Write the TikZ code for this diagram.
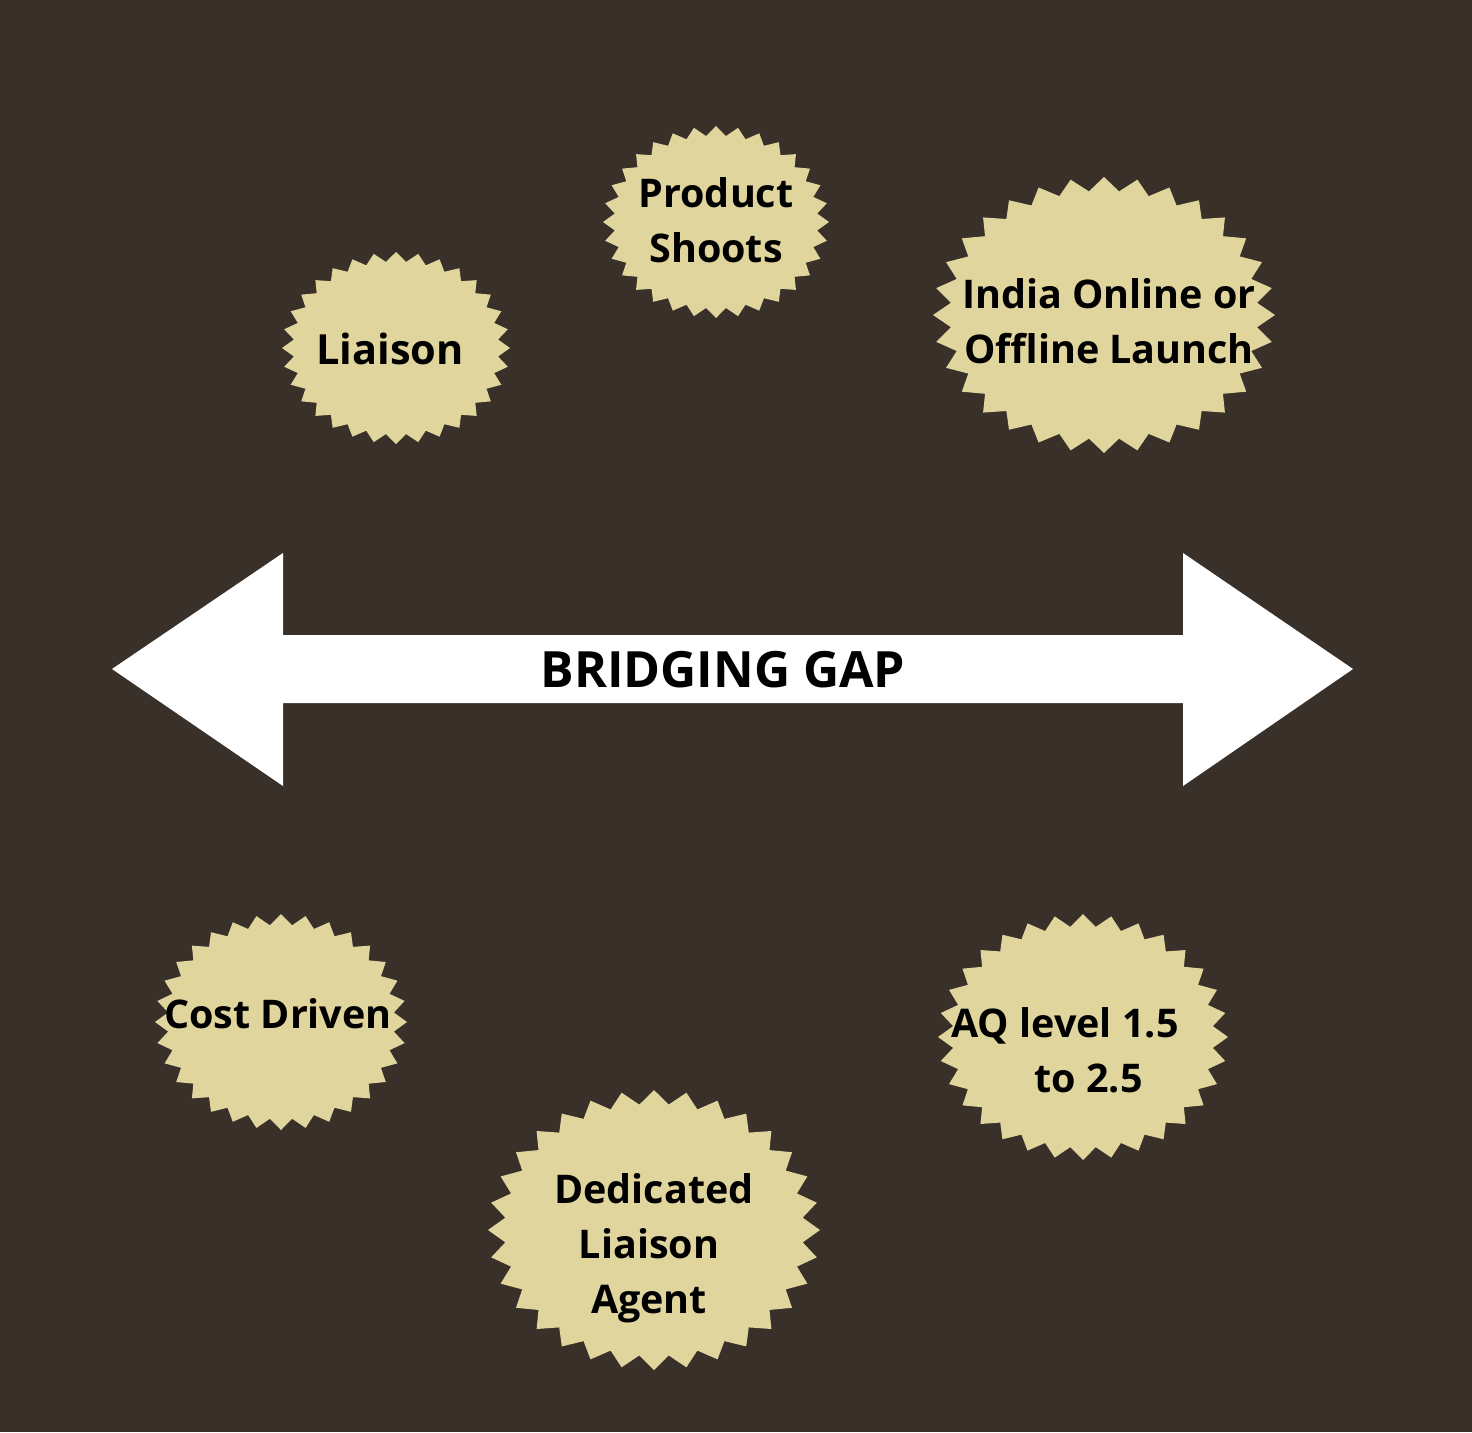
\documentclass[tikz,border=0pt]{standalone}
\usepackage{fontspec}
\setmainfont{Open Sans}
\definecolor{bgbrown}{HTML}{39302A}
\definecolor{sealfill}{HTML}{E1D59E}
\newcommand\sealshape[4]{%
  \fill[sealfill] ({#1+#3},#2) \foreach \i in {1,...,63}{ -- ({#1+#3*(1-0.1*mod(\i,2))*cos(\i*5.625)},{#2+#4*(1-0.1*mod(\i,2))*sin(\i*5.625)}) } -- cycle;}
\begin{document}
\begin{tikzpicture}[x=1pt,y=-1pt,
  lbl/.style={font=\bfseries\fontsize{39.5}{55}\selectfont, align=center, anchor=base, inner sep=0pt, text=black}]
\fill[bgbrown] (0,0) rectangle (1472,1432);
\useasboundingbox (0,0) rectangle (1472,1432);
% seals
\sealshape{716}{222}{113}{96}
\sealshape{396}{348}{114}{96}
\sealshape{1104}{315}{171}{138}
\sealshape{281}{1022}{126}{108}
\sealshape{1083}{1037}{145}{123}
\sealshape{654}{1230}{166}{140}
% double arrow
\fill[white] (112,669) -- (283,553) -- (283,635) -- (1183,635) -- (1183,553) -- (1353,669)
  -- (1183,786) -- (1183,703) -- (283,703) -- (283,786) -- cycle;
% labels
\node[lbl, font=\bfseries\fontsize{50}{60}\selectfont] (gap) at (723,687) {BRIDGING GAP};
\node[lbl] (shoots) at (716,262) {Product\\Shoots};
\node[lbl, font=\bfseries\fontsize{41.5}{55}\selectfont] (liaison) at (390,364) {Liaison};
\node[lbl] (launch) at (1109,363) {India Online or\\Offline Launch};
\node[lbl] (cost) at (278,1028) {Cost Driven};
\node[lbl, align=left] (aq) at (1065,1092) {AQ level 1.5\\\hspace*{83pt}to 2.5};
\node[lbl] (agent) at (649,1313) {\hspace*{10pt}Dedicated\\Liaison\\Agent};
\end{tikzpicture}
\end{document}
